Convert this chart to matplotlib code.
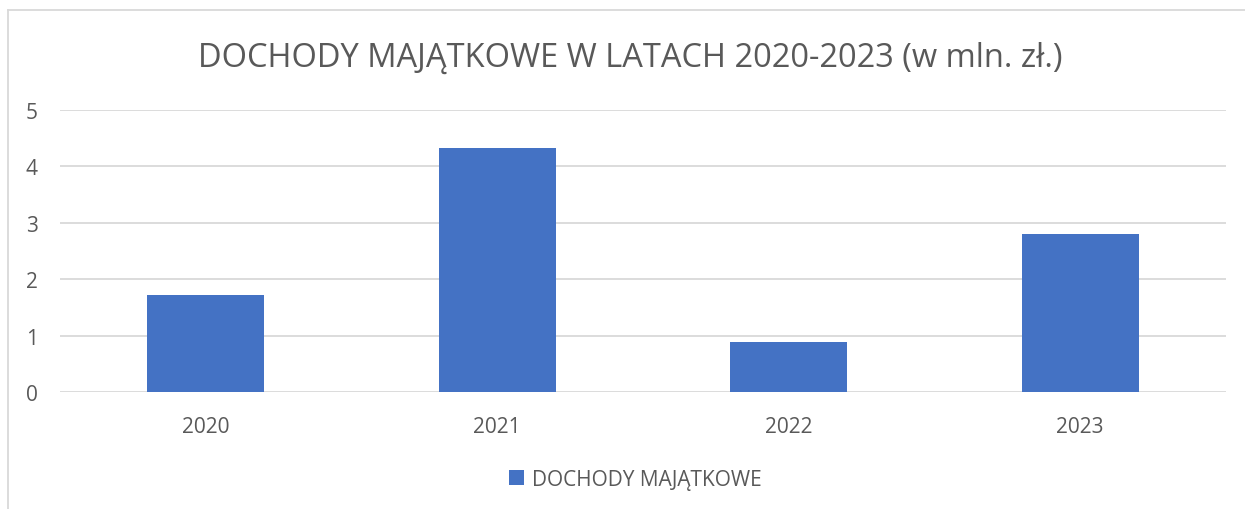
import matplotlib.pyplot as plt
from matplotlib.lines import Line2D
import numpy as np

years = ["2020", "2021", "2022", "2023"]
dochody = [1.72, 4.33, 0.89, 2.80]
yticks = [0, 1, 2, 3, 4, 5]

plt.rcParams['font.family'] = ['Open Sans', 'DejaVu Sans']
txt = "#595959"

fig = plt.figure(figsize=(12.45, 5.1), dpi=100)
ax = fig.add_axes([0.0482, 0.2294, 0.9365, 0.553])

x = np.arange(len(years))
ax.bar(x, dochody, width=0.4, color="#4472C4", zorder=3, label="DOCHODY MAJĄTKOWE")

ax.set_xlim(-0.5, len(years) - 0.5)
ax.set_ylim(0, 5)
ax.set_yticks(yticks)
ax.set_xticks(x)
ax.set_xticklabels(years)
ax.grid(axis="y", color="#D9D9D9", linewidth=1.3, zorder=0)
for s in ax.spines.values():
    s.set_visible(False)
ax.tick_params(length=0, labelsize=15, colors=txt)
ax.tick_params(axis="x", pad=17)
ax.tick_params(axis="y", pad=16)

fig.text(0.506, 0.885, "DOCHODY MAJĄTKOWE W LATACH 2020-2023 (w mln. zł.)",
         ha="center", va="center", fontsize=23.5, color=txt)

leg = fig.legend(loc="center", bbox_to_anchor=(0.5105, 0.058), frameon=False,
                 fontsize=15, handlelength=0.7, handleheight=0.7,
                 handletextpad=0.4)
for t in leg.get_texts():
    t.set_color(txt)

# chart border (only left and top visible in the crop)
fig.add_artist(Line2D([8 / 1245, 8 / 1245], [0, 1 - 11 / 510],
                      transform=fig.transFigure, color="#D9D9D9", linewidth=1.3))
fig.add_artist(Line2D([8 / 1245, 1], [1 - 11 / 510, 1 - 11 / 510],
                      transform=fig.transFigure, color="#D9D9D9", linewidth=1.3))

fig.savefig("out.png", dpi=100)
